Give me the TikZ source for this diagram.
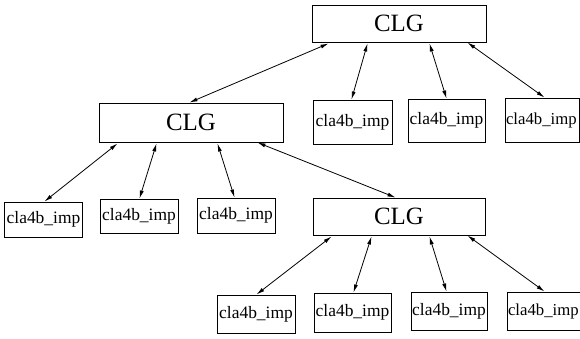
\documentclass[tikz,border=0pt]{standalone}
\usepackage{fontspec}
\setmainfont{Liberation Serif}
\usetikzlibrary{arrows.meta,calc}
\tikzset{
  clg/.style={draw, line width=1bp, inner sep=0pt, font=\fontsize{25}{25}\selectfont},
  imp/.style={draw, line width=1bp, inner sep=0pt, font=\fontsize{17.5}{17.5}\selectfont},
  edgeimp/.style={imp, text width=72bp, align=left, font=\fontsize{16.8}{16.8}\selectfont},
  link/.style={line width=0.8bp, {Latex[length=8bp,width=4bp]}-{Latex[length=8bp,width=4bp]}}
}
\begin{document}
\begin{tikzpicture}[x=1bp,y=-1bp]
\useasboundingbox (0,0) rectangle (580,338);
% CLG nodes
\node[clg, minimum width=174bp, minimum height=37bp] (top) at (399,23.5) {CLG};
\node[clg, minimum width=184bp, minimum height=39bp] (mid) at (191,122.5) {CLG};
\node[clg, minimum width=172bp, minimum height=37bp] (bot) at (399,216.5) {CLG};
% children of top
\node[imp, minimum width=79bp, minimum height=44bp] (tc1) at (352.5,122) {cla4b\_imp};
\node[imp, minimum width=77bp, minimum height=43bp] (tc2) at (446.5,120.5) {cla4b\_imp};
\node[edgeimp, minimum width=74bp, minimum height=44bp] (tc3) at (542,120) {cla4b\_imp};
% children of mid
\node[imp, minimum width=77bp, minimum height=35bp] (mc1) at (43.5,219.5) {cla4b\_imp};
\node[imp, minimum width=78bp, minimum height=34bp] (mc2) at (139,216) {cla4b\_imp};
\node[imp, minimum width=78bp, minimum height=35bp] (mc3) at (236,215.5) {cla4b\_imp};
% children of bot
\node[imp, minimum width=78bp, minimum height=38bp] (bc1) at (256,314) {cla4b\_imp};
\node[imp, minimum width=77bp, minimum height=39bp] (bc2) at (352.5,312.5) {cla4b\_imp};
\node[imp, minimum width=76bp, minimum height=38bp] (bc3) at (449,311) {cla4b\_imp};
\node[edgeimp, minimum width=74bp, minimum height=38bp] (bc4) at (544,311) {cla4b\_imp};
% connectors from top
\draw[link] ($(top.south west)+(17,1)$) -- ($(mid.north west)+(91,0)$);
\draw[link] ($(top.south west)+(56,1)$) -- ($(tc1.north west)+(39,0)$);
\draw[link] ($(top.south west)+(118,1)$) -- ($(tc2.north west)+(39,0)$);
\draw[link] ($(top.south west)+(156,0)$) -- ($(tc3.north west)+(40,0)$);
% connectors from mid
\draw[link] ($(mid.south west)+(19,1)$) -- ($(mc1.north west)+(40,0)$);
\draw[link] ($(mid.south west)+(58,1)$) -- ($(mc2.north west)+(40,0)$);
\draw[link] ($(mid.south west)+(119,1)$) -- ($(mc3.north west)+(38,0)$);
\draw[link] ($(mid.south west)+(159,0)$) -- ($(bot.north west)+(83,0)$);
% connectors from bot
\draw[link] ($(bot.south west)+(19,1)$) -- ($(bc1.north west)+(40,0)$);
\draw[link] ($(bot.south west)+(59,1)$) -- ($(bc2.north west)+(40,0)$);
\draw[link] ($(bot.south west)+(117,1)$) -- ($(bc3.north west)+(36,0)$);
\draw[link] ($(bot.south west)+(155,0)$) -- ($(bc4.north west)+(38,0)$);
\end{tikzpicture}
\end{document}
